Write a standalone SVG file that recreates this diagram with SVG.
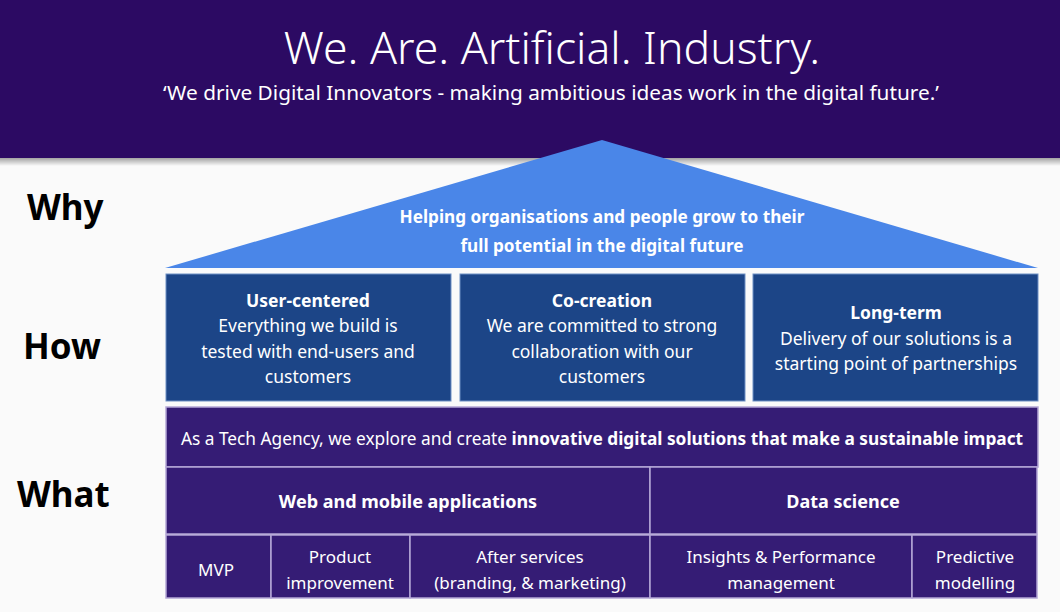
<svg xmlns="http://www.w3.org/2000/svg" width="1060" height="612" viewBox="0 0 1060 612">
<defs>
<linearGradient id="shadow" x1="0" y1="0" x2="0" y2="1">
<stop offset="0" stop-color="#000" stop-opacity="0.35"/>
<stop offset="1" stop-color="#000" stop-opacity="0"/>
</linearGradient>
</defs>
<style>
.t{font-family:"Noto Sans","Open Sans",sans-serif;fill:#fff;text-anchor:middle}
.b{font-weight:bold}
.lbl{font-family:"Noto Sans","Open Sans",sans-serif;font-weight:bold;font-size:35px;fill:#000}
.pillar{fill:#1c4587;stroke:#6d8fc4;stroke-width:1}
.purple{fill:#351c75;stroke:#b4a7d6;stroke-width:1.5}
</style>
<rect x="0" y="0" width="1060" height="612" fill="#fafafa"/>
<g id="header">
<rect x="0" y="158" width="1060" height="8" fill="url(#shadow)"/>
<rect x="0" y="0" width="1060" height="158" fill="#2c0a63"/>
<text class="t" x="552" y="64" font-size="44.5" font-weight="300">We. Are. Artificial. Industry.</text>
<text class="t" x="551" y="100" font-size="20.8">‘We drive Digital Innovators - making ambitious ideas work in the digital future.’</text>
</g>
<g id="labels">
<text class="lbl" x="27" y="220">Why</text>
<text class="lbl" x="23" y="359">How</text>
<text class="lbl" x="17" y="507">What</text>
</g>
<g id="roof">
<polygon points="602,140 1038,268 165,268" fill="#4a86e8"/>
<text class="t b" x="602" y="223" font-size="17.2">Helping organisations and people grow to their</text>
<text class="t b" x="602" y="252" font-size="17.2">full potential in the digital future</text>
</g>
<g id="pillar-user-centered">
<rect class="pillar" x="166" y="274" width="285" height="127"/>
<text class="t" font-size="17.5"><tspan class="b" x="308" y="307">User-centered</tspan><tspan x="308" y="332">Everything we build is</tspan><tspan x="308" y="358">tested with end-users and</tspan><tspan x="308" y="383">customers</tspan></text>
</g>
<g id="pillar-co-creation">
<rect class="pillar" x="460" y="274" width="285" height="127"/>
<text class="t" font-size="17.5"><tspan class="b" x="602" y="307">Co-creation</tspan><tspan x="602" y="332">We are committed to strong</tspan><tspan x="602" y="358">collaboration with our</tspan><tspan x="602" y="383">customers</tspan></text>
</g>
<g id="pillar-long-term">
<rect class="pillar" x="753" y="274" width="285" height="127"/>
<text class="t" font-size="17.5"><tspan class="b" x="896" y="319">Long-term</tspan><tspan x="896" y="345">Delivery of our solutions is a</tspan><tspan x="896" y="370">starting point of partnerships</tspan></text>
</g>
<g id="mission">
<rect class="purple" x="166" y="407" width="872" height="60"/>
<text class="t" x="602" y="445" font-size="17.3">As a Tech Agency, we explore and create <tspan class="b">innovative digital solutions that make a sustainable impact</tspan></text>
</g>
<g id="web-mobile">
<rect class="purple" x="166" y="467" width="484" height="67"/>
<text class="t b" x="408" y="508" font-size="18">Web and mobile applications</text>
</g>
<g id="data-science">
<rect class="purple" x="650" y="467" width="387" height="67"/>
<text class="t b" x="843" y="508" font-size="18">Data science</text>
</g>
<g id="mvp">
<rect class="purple" x="166" y="535" width="105" height="63"/>
<text class="t" x="216" y="576" font-size="17">MVP</text>
</g>
<g id="product-improvement">
<rect class="purple" x="271" y="535" width="139" height="63"/>
<text class="t" font-size="17"><tspan x="340" y="563">Product</tspan><tspan x="340" y="589">improvement</tspan></text>
</g>
<g id="after-services">
<rect class="purple" x="410" y="535" width="240" height="63"/>
<text class="t" font-size="17"><tspan x="530" y="563">After services</tspan><tspan x="530" y="589">(branding, &amp; marketing)</tspan></text>
</g>
<g id="insights">
<rect class="purple" x="650" y="535" width="262" height="63"/>
<text class="t" font-size="17"><tspan x="781" y="563">Insights &amp; Performance</tspan><tspan x="781" y="589">management</tspan></text>
</g>
<g id="predictive">
<rect class="purple" x="912" y="535" width="125" height="63"/>
<text class="t" font-size="17"><tspan x="975" y="563">Predictive</tspan><tspan x="975" y="589">modelling</tspan></text>
</g>
<g id="connectors"/>
</svg>
